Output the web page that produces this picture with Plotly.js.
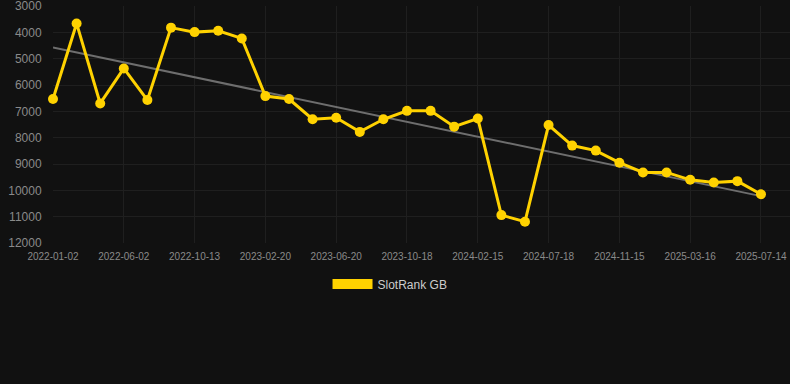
<!DOCTYPE html>
<html>
<head>
<meta charset="utf-8">
<script src="https://cdn.plot.ly/plotly-3.0.1.min.js"></script>
<style>
html,body{margin:0;padding:0;background:#111111;}
#chart{width:790px;height:384px;}
</style>
</head>
<body>
<div id="chart"></div>
<script>
// Data
var tickIndex = [0, 3, 6, 9, 12, 15, 18, 21, 24, 27, 30];
var tickLabels = ["2022-01-02", "2022-06-02", "2022-10-13", "2023-02-20", "2023-06-20",
  "2023-10-18", "2024-02-15", "2024-07-18", "2024-11-15", "2025-03-16", "2025-07-14"];
var yTicks = [3000, 4000, 5000, 6000, 7000, 8000, 9000, 10000, 11000, 12000];
var yTickLabels = ["3000", "4000", "5000", "6000", "7000", "8000", "9000", "10000", "11000", "12000"];
var rankValues = [6530, 3660, 6700, 5370, 6570, 3820, 3990, 3940, 4230, 6420,
  6530, 7300, 7240, 7780, 7300, 6980, 6980, 7580, 7270, 10940,
  11190, 7520, 8300, 8490, 8950, 9320, 9320, 9600, 9700, 9650, 10150];
var seriesName = "SlotRank GB";

var xs = rankValues.map(function(_, i){ return i; });

// least-squares trend line
var n = rankValues.length;
var mx = xs.reduce(function(a,b){return a+b;},0)/n;
var my = rankValues.reduce(function(a,b){return a+b;},0)/n;
var sxy = 0, sxx = 0;
for (var i = 0; i < n; i++) { sxy += (xs[i]-mx)*(rankValues[i]-my); sxx += (xs[i]-mx)*(xs[i]-mx); }
var slope = sxy/sxx, icpt = my - slope*mx;
var trendX = [xs[0], xs[n-1]];
var trendY = trendX.map(function(x){ return icpt + slope*x; });

var yellow = "#FFD200";

var traces = [
  {x: trendX, y: trendY, mode: "lines", type: "scatter", showlegend: false,
   line: {color: "#6e6e6e", width: 2}, hoverinfo: "skip", cliponaxis: false},
  {x: xs, y: rankValues, mode: "lines+markers", type: "scatter", showlegend: false,
   name: seriesName, line: {color: yellow, width: 3}, marker: {color: yellow, size: 10}, cliponaxis: false},
  {x: [null], y: [null], mode: "lines", type: "scatter", name: seriesName,
   line: {color: yellow, width: 12}}
];

var layout = {
  width: 790, height: 384,
  paper_bgcolor: "#111111", plot_bgcolor: "#111111",
  font: {family: "Liberation Sans, Arial, sans-serif", color: "#8a8a8a"},
  margin: {l: 53, r: 0, t: 6, b: 141, autoexpand: false},
  xaxis: {
    range: [0, 31.23], tickmode: "array", tickvals: tickIndex, ticktext: tickLabels, tickangle: 0,
    showgrid: true, gridcolor: "#1f1f1f", zeroline: false, showline: false,
    tickfont: {size: 10, color: "#8a8a8a"}, ticks: "outside", ticklen: 4, tickcolor: "rgba(0,0,0,0)",
    ticklabeloverflow: "allow"
  },
  yaxis: {
    range: [12000, 2998], tickmode: "array", tickvals: yTicks, ticktext: yTickLabels,
    showgrid: true, gridcolor: "#1f1f1f", zeroline: false, showline: false,
    tickfont: {size: 12, color: "#8a8a8a"}, ticks: "outside", ticklen: 8, tickcolor: "rgba(0,0,0,0)",
    ticklabeloverflow: "allow"
  },
  showlegend: true,
  legend: {orientation: "h", xref: "container", x: 0.4937, xanchor: "center", y: -0.173, yanchor: "middle",
    font: {size: 12, color: "#cccccc"}, itemwidth: 40, bgcolor: "rgba(0,0,0,0)"}
};

Plotly.newPlot("chart", traces, layout, {displayModeBar: false, staticPlot: true});
</script>
</body>
</html>
